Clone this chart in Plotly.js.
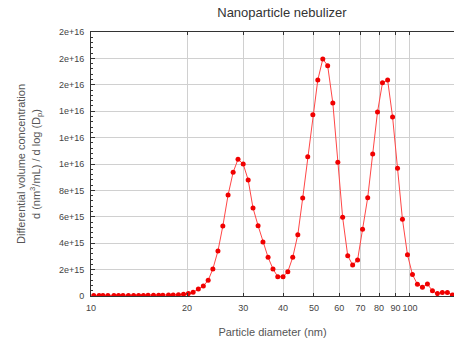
<!DOCTYPE html>
<html>
<head>
<meta charset="utf-8">
<script src="https://cdn.plot.ly/plotly-3.0.1.min.js"></script>
<style>html,body{margin:0;padding:0;background:#fff;overflow:hidden}#chart{width:454px;height:338px}</style>
</head>
<body>
<div id="chart"></div>
<script>
// Particle diameter (nm)
const diameters = [10.2, 10.6, 10.9, 11.3, 11.8, 12.2, 12.6, 13.1, 13.6, 14.1, 14.6, 15.1, 15.7, 16.3, 16.8, 17.5, 18.1, 18.8, 19.5, 20.2,
  20.9, 21.7, 22.5, 23.3, 24.1, 25.0, 25.9, 26.9, 27.9, 28.9, 30.0, 31.1, 32.2, 33.4, 34.6, 35.9, 37.2, 38.5, 40.0, 41.4,
  42.9, 44.5, 46.1, 47.8, 49.6, 51.4, 53.3, 55.2, 57.3, 59.4, 61.5, 63.8, 66.1, 68.5, 71.0, 73.7, 76.4, 79.1, 82.0, 85.1,
  88.2, 91.4, 94.7, 98.2, 101.8, 105.5, 109.4, 113.4, 117.6, 121.9, 126.3, 131.0, 135.8];
// Differential volume concentration d(nm^3/mL)/dlog(Dp)
const concentration = [3e13, 3e13, 3e13, 3e13, 3e13, 3e13, 3e13, 3e13, 3e13, 4e13, 4e13, 5e13, 5e13, 5e13, 6e13, 7e13, 8e13, 1.0e14, 1.3e14, 1.8e14,
  2.8e14, 5.3e14, 7.6e14, 1.19e15, 2.05e15, 3.41e15, 5.30e15, 7.65e15, 9.37e15, 1.036e16, 1.0e16, 8.79e15, 6.67e15, 5.33e15, 4.09e15, 2.93e15, 2.05e15, 1.46e15, 1.46e15, 1.84e15,
  2.93e15, 4.64e15, 7.42e15, 1.055e16, 1.374e16, 1.636e16, 1.795e16, 1.745e16, 1.462e16, 1.013e16, 5.96e15, 3.05e15, 2.35e15, 2.73e15, 5.05e15, 7.45e15, 1.076e16, 1.394e16, 1.616e16, 1.636e16,
  1.356e16, 9.67e15, 5.81e15, 3.13e15, 1.62e15, 8.9e14, 6.6e14, 9.0e14, 4.0e14, 1.8e14, 2.7e14, 2.7e14, 8e13];

const xTickVals = [10, 20, 30, 40, 50, 60, 70, 80, 90, 100];
const xTickText = ['10', '20', '30', '40', '50', '60', '70', '80', '90', '100'];
const yTickVals = [0, 2e15, 4e15, 6e15, 8e15, 1e16, 1.2e16, 1.4e16, 1.6e16, 1.8e16, 2e16];
const yTickText = ['0', '2e+15', '4e+15', '6e+15', '8e+15', '1e+16', '1e+16', '1e+16', '2e+16', '2e+16', '2e+16'];

const font = 'Liberation Sans, Arial, sans-serif';

Plotly.newPlot('chart', [{
  x: diameters,
  y: concentration,
  type: 'scatter',
  mode: 'lines+markers',
  line: {color: 'rgb(255,70,70)', width: 1},
  marker: {color: 'rgb(240,0,0)', size: 5},
  showlegend: false
}], {
  width: 454,
  height: 338,
  margin: {l: 91, r: 0, t: 32, b: 42},
  paper_bgcolor: '#fff',
  plot_bgcolor: '#fff',
  title: {text: 'Nanoparticle nebulizer', font: {family: font, size: 13, color: '#333'}, x: 0.621, xanchor: 'center', y: 0.962, yanchor: 'middle'},
  xaxis: {
    type: 'log',
    range: [1, Math.log10(137.4)],
    tickvals: xTickVals,
    ticktext: xTickText,
    tickfont: {family: font, size: 9, color: '#444'},
    ticklabelstandoff: 3,
    showgrid: true,
    gridcolor: '#d0d0d0',
    gridwidth: 1,
    showline: true,
    linecolor: '#333',
    linewidth: 1,
    mirror: 'ticks',
    ticks: 'inside',
    ticklen: 3,
    tickcolor: '#333',
    zeroline: false,
    automargin: false,
    title: {text: 'Particle diameter (nm)', font: {family: font, size: 11, color: '#555'}, standoff: 16}
  },
  yaxis: {
    range: [0, 2e16],
    tickvals: yTickVals,
    ticktext: yTickText,
    tickfont: {family: font, size: 9, color: '#444'},
    ticklabelstandoff: 4,
    showgrid: true,
    gridcolor: '#d0d0d0',
    gridwidth: 1,
    showline: true,
    linecolor: '#333',
    linewidth: 1,
    ticks: 'inside',
    ticklen: 4,
    tickcolor: '#333',
    zeroline: false,
    minor: {dtick: 4e14, ticks: 'inside', ticklen: 2, tickcolor: '#333', showgrid: false},
    automargin: true,
    title: {text: 'Differential volume concentration<br>d (nm<sup>3</sup>/mL) / d log (D<sub>p</sub>)', font: {family: font, size: 11, color: '#555'}, standoff: 16}
  }
}, {staticPlot: true, displayModeBar: false});
</script>
</body>
</html>
